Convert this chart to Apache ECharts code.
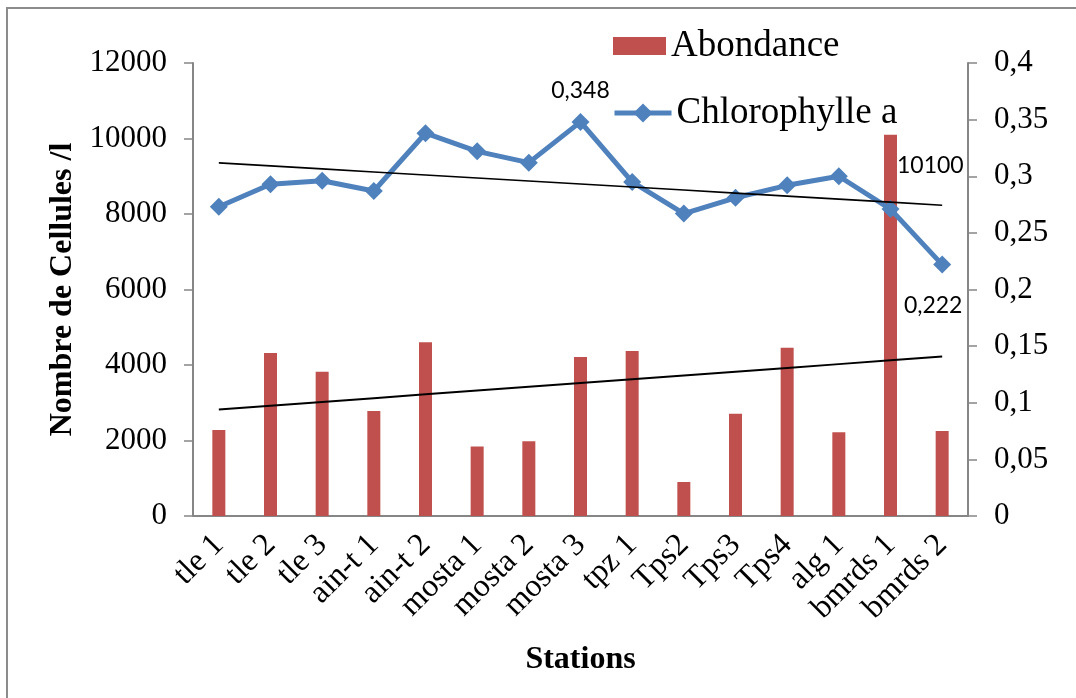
<!DOCTYPE html>
<html>
<head>
<meta charset="utf-8">
<script src="https://cdn.jsdelivr.net/npm/echarts@6/dist/echarts.min.js"></script>
<style>
  html, body { margin: 0; padding: 0; background: #fff; }
  #chart { width: 1076px; height: 698px; }
</style>
</head>
<body>
<div id="chart"></div>
<script>
// Stations sampled along the coast
const stations = ['tle 1', 'tle 2', 'tle 3', 'ain-t 1', 'ain-t 2', 'mosta 1', 'mosta 2',
  'mosta 3', 'tpz 1', 'Tps2', 'Tps3', 'Tps4', 'alg 1', 'bmrds 1', 'bmrds 2'];

// Phytoplankton abundance (cells per litre)
const abondance = [2280, 4320, 3820, 2780, 4600, 1840, 1980, 4210, 4370, 900, 2710, 4460, 2220, 10100, 2250];

// Chlorophyll a concentration
const chlorophylle = [0.273, 0.293, 0.296, 0.287, 0.338, 0.322, 0.312, 0.348, 0.295, 0.267, 0.281, 0.292, 0.300, 0.271, 0.222];

// Axis ranges
const leftMax = 12000, leftStep = 2000;
const rightMax = 0.4, rightStep = 0.05;

// Least-squares linear trend over the station index
function linearTrend(values) {
  const n = values.length;
  const xs = values.map((_, i) => i + 1);
  const mx = xs.reduce((a, b) => a + b, 0) / n;
  const my = values.reduce((a, b) => a + b, 0) / n;
  let sxy = 0, sxx = 0;
  for (let i = 0; i < n; i++) {
    sxy += (xs[i] - mx) * (values[i] - my);
    sxx += (xs[i] - mx) * (xs[i] - mx);
  }
  const slope = sxy / sxx;
  return xs.map(x => my + slope * (x - mx));
}

const comma = v => String(v).replace('.', ',');
const serif = 'Liberation Serif';
const sans = 'Lato';

// Label the highest abundance, and the highest / lowest chlorophyll value
const maxAb = Math.max(...abondance);
const maxChl = Math.max(...chlorophylle);
const minChl = Math.min(...chlorophylle);

const barData = abondance.map(v => v === maxAb ? {
  value: v,
  label: {
    show: true, position: ['100%', 31], align: 'left', verticalAlign: 'middle',
    fontFamily: sans, fontSize: 23, color: '#000'
  }
} : v);

const chlData = chlorophylle.map(v => {
  if (v === maxChl) {
    return { value: v, label: { show: true, position: 'top', distance: 11 } };
  }
  if (v === minChl) {
    return { value: v, label: { show: true, position: 'bottom', distance: 20, offset: [-9, 0] } };
  }
  return v;
});

const axisGray = '#868686';
const blue = '#4F81BD';
const red = '#C0504D';

const chart = echarts.init(document.getElementById('chart'), null, { renderer: 'canvas' });
chart.setOption({
  backgroundColor: '#fff',
  animation: false,
  graphic: [{
    type: 'rect',
    shape: { x: 7, y: 8, width: 1200, height: 800 },
    style: { fill: 'none', stroke: '#8c8c8c', lineWidth: 2 },
    silent: true
  }],
  grid: { left: 193, right: 108, top: 63, bottom: 182 },
  legend: [{
    data: [{ name: 'Abondance', icon: 'rect' }],
    left: 608, top: 19,
    itemWidth: 53, itemHeight: 18, itemGap: 0,
    textStyle: { fontFamily: serif, fontSize: 37, color: '#000', lineHeight: 44 }
  }, {
    data: ['Chlorophylle a'],
    left: 607, top: 86,
    itemWidth: 57, itemHeight: 24,
    lineStyle: { width: 5, color: blue },
    itemStyle: { color: blue },
    textStyle: { fontFamily: serif, fontSize: 37, color: '#000', lineHeight: 44 }
  }],
  xAxis: {
    type: 'category',
    data: stations,
    boundaryGap: true,
    axisLine: { lineStyle: { color: axisGray, width: 2 } },
    axisTick: { show: false },
    axisLabel: {
      rotate: 45, interval: 0, margin: 24,
      fontFamily: serif, fontSize: 32, color: '#000'
    },
    name: 'Stations',
    nameLocation: 'middle',
    nameGap: 128,
    nameTextStyle: { fontFamily: serif, fontSize: 32, fontWeight: 'bold', color: '#000' }
  },
  yAxis: [{
    type: 'value',
    min: 0, max: leftMax, interval: leftStep,
    splitLine: { show: false },
    axisLine: { show: true, lineStyle: { color: axisGray, width: 2 } },
    axisTick: { show: true, length: 9, lineStyle: { color: axisGray, width: 1.5 } },
    axisLabel: { margin: 26, fontFamily: serif, fontSize: 31, color: '#000', formatter: v => String(v) },
    name: 'Nombre de Cellules /l',
    nameLocation: 'middle',
    nameGap: 99,
    nameTextStyle: { fontFamily: serif, fontSize: 32, fontWeight: 'bold', color: '#000' }
  }, {
    type: 'value',
    min: 0, max: rightMax, interval: rightStep,
    position: 'right',
    splitLine: { show: false },
    axisLine: { show: true, lineStyle: { color: axisGray, width: 2 } },
    axisTick: { show: true, length: 9, lineStyle: { color: axisGray, width: 1.5 } },
    axisLabel: {
      margin: 26, fontFamily: serif, fontSize: 31, color: '#000',
      formatter: v => comma(+v.toFixed(2))
    }
  }],
  series: [{
    name: 'Abondance',
    type: 'bar',
    yAxisIndex: 0,
    data: barData,
    barWidth: 13,
    itemStyle: { color: red },
    z: 2
  }, {
    name: 'Chlorophylle a',
    type: 'line',
    yAxisIndex: 1,
    data: chlData,
    symbol: 'diamond',
    symbolSize: 18,
    lineStyle: { color: blue, width: 5 },
    itemStyle: { color: blue },
    label: {
      show: false,
      fontFamily: sans, fontSize: 23, color: '#000',
      formatter: p => comma(p.value)
    },
    z: 4
  }, {
    name: 'trend-abondance',
    type: 'line',
    yAxisIndex: 0,
    data: linearTrend(abondance),
    symbol: 'none',
    silent: true,
    lineStyle: { color: '#000', width: 2 },
    z: 5
  }, {
    name: 'trend-chlorophylle',
    type: 'line',
    yAxisIndex: 1,
    data: linearTrend(chlorophylle),
    symbol: 'none',
    silent: true,
    lineStyle: { color: '#000', width: 1.6 },
    z: 5
  }]
});
</script>
</body>
</html>
